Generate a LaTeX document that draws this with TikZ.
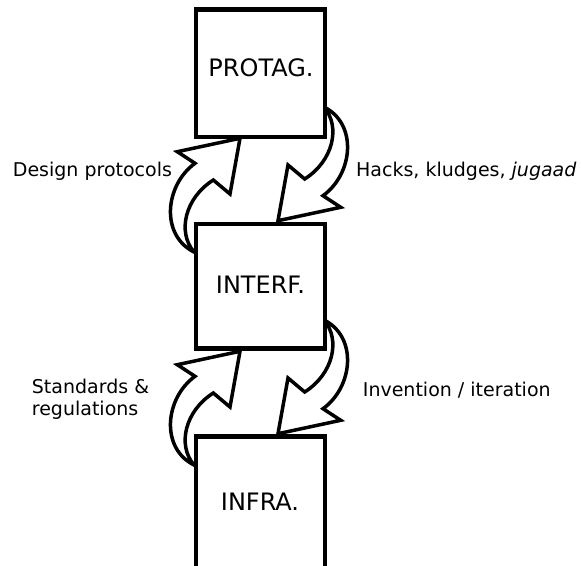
\documentclass[tikz,border=0pt]{standalone}
\usepackage{fontspec}
\setmainfont{DejaVu Sans}
\begin{document}
\begin{tikzpicture}[x=1pt,y=-1pt,
  box/.style={draw=black,line width=4.5pt,fill=white,rectangle,inner sep=0pt},
  carrow/.style={draw=black,line width=3.5pt,fill=white,line join=miter},
  boxtext/.style={font=\fontsize{24}{28}\selectfont,anchor=base,inner sep=0pt},
  lbl/.style={font=\fontsize{19}{22}\selectfont,anchor=base west,inner sep=0pt},
  curvarrow/.pic={
    \draw[carrow] (177.3,151.7) -- (240,138.3) -- (230,194) -- (213.3,180)
      .. controls (185,198) and (177,232) .. (194,252)
      .. controls (160,235) and (165,185) .. (195,163.3) -- cycle;
  }]
\clip (0,0) rectangle (581,565);
\fill[white] (0,0) rectangle (581,565);
% curved arrows
\pic at (0,0) {curvarrow};
\pic[rotate=180] at (518,359) {curvarrow};
\pic at (0,213) {curvarrow};
\pic[rotate=180] at (518,572) {curvarrow};
% boxes
\node[box,minimum width=129pt,minimum height=127.7pt] (protag) at (260.5,73.35) {};
\node[box,minimum width=129pt,minimum height=124.9pt] (interf) at (260.5,286.25) {};
\node[box,minimum width=129pt,minimum height=132.5pt] (infra) at (260.5,502.75) {};
\node[boxtext] (protagt) at (261,76.7) {PROTAG.};
\node[boxtext] (interft) at (260.5,293.3) {INTERF.};
\node[boxtext] (infrat) at (260,510) {INFRA.};
% labels
\node[lbl] (design) at (12.7,176.7) {Design protocols};
\node[lbl] (hacks) at (356,176.7) {Hacks, kludges, \textit{jugaad}};
\node[lbl] (standards) at (31.7,393.3) {Standards \&};
\node[lbl] (regs) at (31.7,415) {regulations};
\node[lbl] (invention) at (362.7,396) {Invention / iteration};
\end{tikzpicture}
\end{document}
